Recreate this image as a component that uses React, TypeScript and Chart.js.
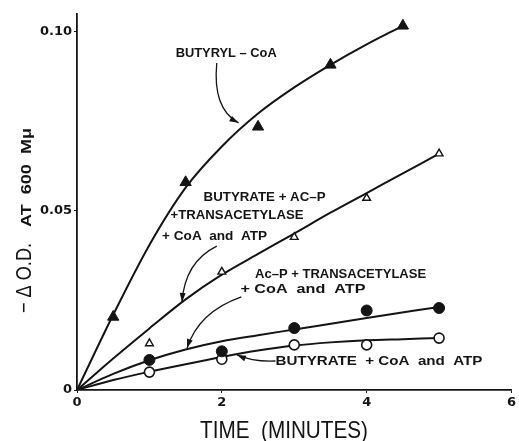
import React, { useEffect, useRef } from "react";
import { Chart, registerables } from "chart.js";

Chart.register(...registerables);

// ---- axis ticks ----
const xTicks = [0, 2, 4, 6];
const xTickLabels = ["0", "2", "4", "6"];
const yTicks = [0, 0.05, 0.1];
const yTickLabels = ["0", "0.05", "0.10"];

// ---- Butyryl-CoA (filled triangles) ----
const butyrylX = [0.5, 1.5, 2.5, 3.5, 4.5];
const butyrylY = [0.0204, 0.058, 0.0735, 0.0908, 0.1017];
const butyrylCurveX = [0, 0.5, 1, 1.5, 2, 2.5, 3, 3.5, 4, 4.5];
const butyrylCurveY = [0, 0.021, 0.0405, 0.0565, 0.068, 0.0772, 0.0845, 0.0908, 0.0965, 0.1017];

// ---- Butyrate + Ac-P + transacetylase + CoA and ATP (open triangles) ----
const butAcpX = [1, 2, 3, 4, 5];
const butAcpY = [0.013, 0.033, 0.0427, 0.0536, 0.066];
const butAcpCurveX = [0, 0.5, 1, 1.5, 2, 2.5, 3, 3.5, 4, 4.5, 5];
const butAcpCurveY = [0, 0.0088, 0.0172, 0.0253, 0.0322, 0.038, 0.0437, 0.0495, 0.055, 0.0605, 0.066];

// ---- Ac-P + transacetylase + CoA and ATP (filled circles) ----
const acpX = [1, 2, 3, 4, 5];
const acpY = [0.0084, 0.0108, 0.0173, 0.0222, 0.0229];
const acpCurveX = [0, 0.5, 1, 1.5, 2, 2.5, 3, 4, 5];
const acpCurveY = [0, 0.0045, 0.0083, 0.0113, 0.0136, 0.0153, 0.0169, 0.0201, 0.0232];

// ---- Butyrate + CoA and ATP (open circles) ----
const butX = [1, 2, 3, 4, 5];
const butY = [0.005, 0.0086, 0.0126, 0.0126, 0.0145];
const butCurveX = [0, 0.5, 1, 1.5, 2, 2.5, 3, 3.5, 4, 4.5, 5];
const butCurveY = [0, 0.0028, 0.0051, 0.0072, 0.0092, 0.011, 0.0124, 0.0133, 0.0139, 0.0142, 0.0145];

// ---- text labels ----
const xTitle = "TIME  (MINUTES)";
const yTitleMain = "− Δ O.D.";
const yTitleSub = "AT  600  Mμ";
const labelTexts = [
  "BUTYRYL – CoA",
  "BUTYRATE + AC–P",
  "+TRANSACETYLASE",
  "+ CoA  and  ATP",
  "Ac–P + TRANSACETYLASE",
  "+ CoA  and  ATP",
  "BUTYRATE  + CoA  and  ATP",
];

const pts = (xs: number[], ys: number[]) => xs.map((x, i) => ({ x, y: ys[i] }));

// label placement (data coordinates) and target widths (px)
const labelLayout = [
  { x: 2.06, y: 0.0939, w: 101 },
  { x: 2.59, y: 0.0536, w: 122 },
  { x: 2.21, y: 0.0486, w: 133 },
  { x: 1.9, y: 0.0427, w: 105 },
  { x: 3.64, y: 0.0321, w: 171 },
  { x: 3.12, y: 0.0279, w: 125 },
  { x: 4.17, y: 0.0078, w: 207 },
];

// arrows: start, control, tip (data coordinates)
const arrowLayout = [
  [[1.93, 0.0913], [1.87, 0.0785], [2.23, 0.0746]],
  [[1.93, 0.0402], [1.49, 0.0358], [1.45, 0.0246]],
  [[2.27, 0.026], [1.68, 0.0218], [1.52, 0.0117]],
  [[2.74, 0.0081], [2.44, 0.0078], [2.21, 0.0098]],
];

const INK = "#141414";
const LABEL_FONT = "bold 12px 'Liberation Sans', Arial, sans-serif";

function fitText(
  ctx: CanvasRenderingContext2D,
  text: string,
  x: number,
  y: number,
  width: number,
  font: string,
  align: CanvasTextAlign = "center",
  baseline: CanvasTextBaseline = "middle"
) {
  ctx.save();
  ctx.font = font;
  const w = ctx.measureText(text).width;
  ctx.translate(x, y);
  ctx.scale(width / w, 1);
  ctx.textAlign = align;
  ctx.textBaseline = baseline;
  ctx.fillText(text, 0, 0);
  ctx.restore();
}

const annotationPlugin = {
  id: "annotations",
  afterDraw(chart: any) {
    const { ctx, scales } = chart;
    const xs = scales.x;
    const ys = scales.y;
    const px = (v: number) => xs.getPixelForValue(v);
    const py = (v: number) => ys.getPixelForValue(v);
    ctx.save();
    ctx.fillStyle = INK;
    ctx.strokeStyle = INK;

    labelTexts.forEach((t, i) => {
      const l = labelLayout[i];
      fitText(ctx, t, px(l.x), py(l.y), l.w, LABEL_FONT);
    });

    arrowLayout.forEach((a) => {
      const [s, c, t] = a;
      const sx = px(s[0]), sy = py(s[1]);
      const cx = px(c[0]), cy = py(c[1]);
      const tx = px(t[0]), ty = py(t[1]);
      ctx.lineWidth = 1.3;
      ctx.beginPath();
      ctx.moveTo(sx, sy);
      ctx.quadraticCurveTo(cx, cy, tx, ty);
      ctx.stroke();
      const ang = Math.atan2(ty - cy, tx - cx);
      const len = 9, half = 3;
      ctx.beginPath();
      ctx.moveTo(tx, ty);
      ctx.lineTo(tx - len * Math.cos(ang) + half * Math.sin(ang), ty - len * Math.sin(ang) - half * Math.cos(ang));
      ctx.lineTo(tx - len * Math.cos(ang) - half * Math.sin(ang), ty - len * Math.sin(ang) + half * Math.cos(ang));
      ctx.closePath();
      ctx.fill();
    });

    // x axis title
    fitText(ctx, xTitle, 284, 438, 168, "24px 'Liberation Sans', Arial, sans-serif", "center", "alphabetic");

    // y axis title (two sizes), rotated
    ctx.save();
    ctx.translate(31, 313);
    ctx.rotate(-Math.PI / 2);
    fitText(ctx, yTitleMain, 0, 0, 70, "22px 'Liberation Sans', Arial, sans-serif", "left", "alphabetic");
    ctx.restore();
    ctx.save();
    ctx.translate(31, 227);
    ctx.rotate(-Math.PI / 2);
    fitText(ctx, yTitleSub, 0, 0, 99, "bold 14px 'Liberation Sans', Arial, sans-serif", "left", "alphabetic");
    ctx.restore();

    ctx.restore();
  },
};

export default function App() {
  const ref = useRef<HTMLCanvasElement | null>(null);

  useEffect(() => {
    if (!ref.current) return;
    const markerBase = { showLine: false, borderColor: INK, order: 0 };
    const curveBase = {
      showLine: true,
      borderColor: INK,
      borderWidth: 2,
      pointRadius: 0,
      cubicInterpolationMode: "monotone" as const,
      fill: false,
      order: 1,
    };
    const chart = new Chart(ref.current, {
      type: "line",
      data: {
        datasets: [
          { ...markerBase, data: pts(butyrylX, butyrylY), pointStyle: "triangle", pointRadius: 6.5, backgroundColor: INK, borderWidth: 1 },
          { ...markerBase, data: pts(butAcpX, butAcpY), pointStyle: "triangle", pointRadius: 4.5, backgroundColor: "#fff", borderWidth: 1.4 },
          { ...markerBase, data: pts(acpX, acpY), pointStyle: "circle", pointRadius: 5.5, backgroundColor: INK, borderWidth: 1 },
          { ...markerBase, data: pts(butX, butY), pointStyle: "circle", pointRadius: 5, backgroundColor: "#fff", borderWidth: 1.6 },
          { ...curveBase, data: pts(butyrylCurveX, butyrylCurveY) },
          { ...curveBase, data: pts(butAcpCurveX, butAcpCurveY) },
          { ...curveBase, data: pts(acpCurveX, acpCurveY) },
          { ...curveBase, data: pts(butCurveX, butCurveY) },
        ] as any,
      },
      options: {
        animation: false,
        responsive: false,
        events: [],
        layout: { padding: { top: 14, right: 4, left: 0, bottom: 0 } },
        plugins: { legend: { display: false }, tooltip: { enabled: false } },
        scales: {
          x: {
            type: "linear",
            min: 0,
            max: 6,
            afterBuildTicks: (s: any) => {
              s.ticks = xTicks.map((v) => ({ value: v }));
            },
            afterFit: (s: any) => {
              s.height = 51;
            },
            ticks: {
              callback: (v: any) => xTickLabels[xTicks.indexOf(Number(v))] ?? "",
              color: INK,
              font: { family: "'DejaVu Sans', sans-serif", size: 13, weight: "bold" },
              padding: 2,
              maxRotation: 0,
            },
            grid: { drawOnChartArea: false, drawTicks: true, tickLength: 3, color: INK, lineWidth: 1 },
            border: { display: true, color: INK, width: 1.8 },
          },
          y: {
            type: "linear",
            min: 0,
            max: 0.105,
            afterBuildTicks: (s: any) => {
              s.ticks = yTicks.map((v) => ({ value: v }));
            },
            afterFit: (s: any) => {
              s.width = 77;
            },
            ticks: {
              callback: (v: any) => {
                const i = yTicks.findIndex((t) => Math.abs(t - Number(v)) < 1e-9);
                return i >= 0 ? yTickLabels[i] : "";
              },
              color: INK,
              font: { family: "'DejaVu Sans', sans-serif", size: 13, weight: "bold" },
              padding: 2,
            },
            grid: { drawOnChartArea: false, drawTicks: true, tickLength: 3, color: INK, lineWidth: 1 },
            border: { display: true, color: INK, width: 1.8 },
          },
        },
      },
      plugins: [annotationPlugin],
    });
    return () => chart.destroy();
  }, []);

  return (
    <div style={{ position: "fixed", left: 0, top: 0, width: 519, height: 441, background: "#fff" }}>
      <canvas ref={ref} width={519} height={441} style={{ display: "block" }} />
    </div>
  );
}
